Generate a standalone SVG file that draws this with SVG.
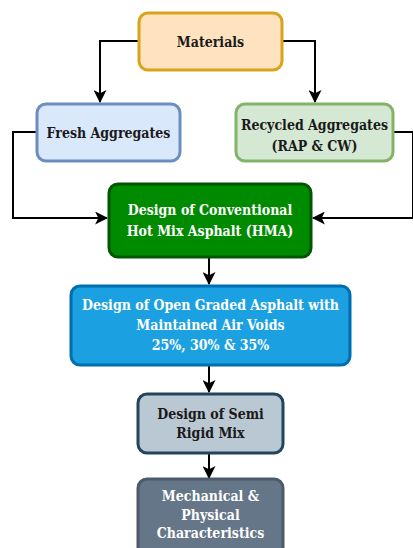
<svg xmlns="http://www.w3.org/2000/svg" width="413" height="548" viewBox="0 0 413 548">
<style>
.t{font-family:"DejaVu Serif Condensed","DejaVu Serif",serif;font-stretch:condensed;font-weight:bold;font-size:14px;text-anchor:middle}
.d{fill:#1a1a1a}
.w{fill:#ffffff}
.c{fill:none;stroke:#000;stroke-width:2}
rect{stroke-width:3}
</style>
<defs>
<marker id="a" viewBox="0 0 12 12" refX="11" refY="6" markerWidth="13" markerHeight="13" markerUnits="userSpaceOnUse" orient="auto">
<path d="M0,0 L12,6 L0,12 L3,6 z" fill="#000"/>
</marker>
</defs>
<rect width="413" height="548" fill="#fff" style="stroke:none"/>
<g id="connectors">
<path class="c" d="M139,41 H100 V102" marker-end="url(#a)"/>
<path class="c" d="M282,41 H315 V102" marker-end="url(#a)"/>
<path class="c" d="M37,132 H13 V218 H107" marker-end="url(#a)"/>
<path class="c" d="M393,132 H413 V218 H313" marker-end="url(#a)"/>
<path class="c" d="M209,257 V284" marker-end="url(#a)"/>
<path class="c" d="M209,365 V392" marker-end="url(#a)"/>
<path class="c" d="M209,453 V478" marker-end="url(#a)"/>
</g>
<g id="materials">
<rect x="139" y="13" width="143" height="57" rx="9" fill="#ffe2bf" stroke="#d9a31a"/>
<text class="t d" x="210.5" y="47">Materials</text>
</g>
<g id="fresh">
<rect x="37" y="104" width="143" height="57" rx="9" fill="#dae8fc" stroke="#6c8ebf"/>
<text class="t d" x="108.5" y="138">Fresh Aggregates</text>
</g>
<g id="recycled">
<rect x="236" y="104" width="157" height="57" rx="9" fill="#d5e8d4" stroke="#82b366"/>
<text class="t d" x="314.5" y="130">Recycled Aggregates</text>
<text class="t d" x="314.5" y="151">(RAP &amp; CW)</text>
</g>
<g id="hma">
<rect x="109" y="184" width="202" height="73" rx="9" fill="#008a00" stroke="#005700"/>
<text class="t w" x="210" y="215">Design of Conventional</text>
<text class="t w" x="210" y="236">Hot Mix Asphalt (HMA)</text>
</g>
<g id="open-graded">
<rect x="71" y="286" width="279" height="79" rx="9" fill="#1ba1e2" stroke="#006eaf"/>
<text class="t w" x="210.5" y="310">Design of Open Graded Asphalt with</text>
<text class="t w" x="210.5" y="330">Maintained Air Voids</text>
<text class="t w" x="210.5" y="350">25%, 30% &amp; 35%</text>
</g>
<g id="semi-rigid">
<rect x="138" y="394" width="145" height="59" rx="9" fill="#bac8d3" stroke="#23445d"/>
<text class="t d" x="210.5" y="419">Design of Semi</text>
<text class="t d" x="210.5" y="438">Rigid Mix</text>
</g>
<g id="mechanical">
<rect x="138" y="479" width="145" height="80" rx="9" fill="#647687" stroke="#4b5b6b"/>
<text class="t w" x="210.5" y="501">Mechanical &amp;</text>
<text class="t w" x="210.5" y="520">Physical</text>
<text class="t w" x="210.5" y="538">Characteristics</text>
</g>
</svg>
